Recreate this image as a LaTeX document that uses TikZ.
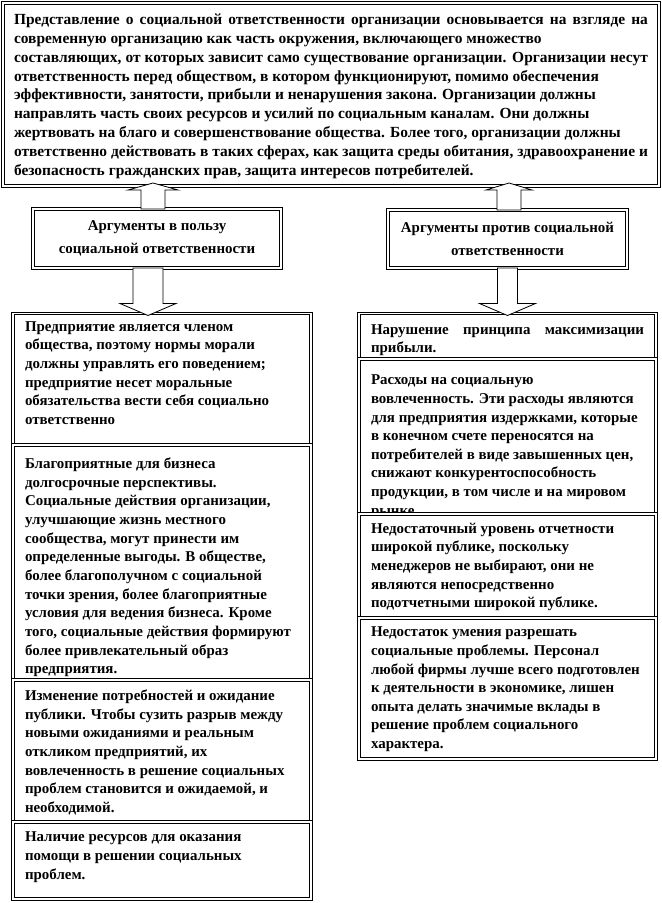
\documentclass[tikz,border=0pt]{standalone}
\usepackage{fontspec}
\setmainfont{Liberation Serif}
\usetikzlibrary{calc}

\newcommand{\boxpar}[3]{\parbox[t][#2][t]{#1}{\raggedright #3}}
\newcommand{\fullline}[1]{\makebox[\linewidth][s]{#1}}

\begin{document}
\begin{tikzpicture}[x=1bp,y=-1bp,
frame/.style={draw,double,double distance=1.4bp,line width=0.9bp,fill=white,outer sep=0pt,inner sep=0pt,
  font=\fontsize{15}{18.7}\selectfont\bfseries},
argBox/.style={frame,align=center,minimum width=248bp,minimum height=59bp},
cellBox/.style={frame,anchor=north west,inner xsep=12bp,inner ysep=8bp},
blockArrow/.style={draw,fill=white,line width=0.8bp}]
\useasboundingbox (0,0) rectangle (662,903);

\node[cellBox,inner xsep=11bp,inner ysep=11bp,font=\fontsize{15.5}{18.9}\selectfont\bfseries] (society) at (3,3) {\boxpar{634bp}{161bp}{%
\fullline{Представление о социальной ответственности организации основывается на взгляде на}\\
современную организацию как часть окружения, включающего  множество\\
\fullline{составляющих, от которых зависит само существование организации. Организации несут}\\
ответственность перед обществом, в котором функционируют, помимо обеспечения\\
эффективности, занятости, прибыли и ненарушения закона. Организации должны\\
направлять часть своих ресурсов и усилий по социальным каналам. Они должны\\
жертвовать на благо и совершенствование общества. Более того, организации должны\\
\fullline{ответственно действовать в таких сферах, как защита среды обитания, здравоохранение и}\\
безопасность гражданских прав, защита интересов потребителей.}};

\node[argBox] (pro) at (157,238.5) {Аргументы в пользу\\[4bp]социальной ответственности};
\node[argBox,minimum width=239bp,minimum height=58bp] (contra) at (507.5,239) {Аргументы против социальной\\[4bp]ответственности};

% arguments for
\node[cellBox] (proA) at (13,313.5) {\boxpar{274bp}{115.5bp}{%
Предприятие является членом\\
общества, поэтому нормы морали\\
должны управлять его поведением;\\
предприятие несет моральные\\
обязательства вести себя социально\\
ответственно}};
\node[cellBox,inner ysep=13bp] (proB) at (proA.south west) {\boxpar{274bp}{209bp}{%
Благоприятные для бизнеса\\
долгосрочные перспективы.\\
Социальные действия организации,\\
улучшающие  жизнь местного\\
сообщества, могут принести им\\
определенные выгоды. В обществе,\\
более благополучном с социальной\\
точки зрения, более благоприятные\\
условия для ведения бизнеса. Кроме\\
того, социальные действия формируют\\
более привлекательный образ\\
предприятия.}};
\node[cellBox,inner ysep=10bp] (proC) at (proB.south west) {\boxpar{274bp}{122bp}{%
Изменение потребностей и ожидание\\
публики. Чтобы сузить разрыв между\\
новыми ожиданиями и реальным\\
откликом предприятий, их\\
вовлеченность в решение социальных\\
проблем становится и ожидаемой, и\\
необходимой.}};
\node[cellBox,inner ysep=10bp] (proD) at (proC.south west) {\boxpar{274bp}{57bp}{%
Наличие ресурсов для оказания\\
помощи в решении социальных\\
проблем.}};

% arguments against
\node[cellBox,inner ysep=11bp] (conA) at (359,313.5) {\boxpar{273bp}{23.5bp}{%
\fullline{Нарушение принципа максимизации}\\
прибыли.}};
\node[cellBox,inner ysep=16bp] (conB) at (conA.south west) {\boxpar{273bp}{123bp}{%
Расходы на социальную\\
вовлеченность. Эти расходы являются\\
для предприятия издержками, которые\\
в конечном счете переносятся на\\
потребителей в виде завышенных цен,\\
снижают конкурентоспособность\\
продукции, в том числе и на мировом\\
рынке.}};
\node[cellBox,inner ysep=9bp] (conC) at (conB.south west) {\boxpar{273bp}{86bp}{%
Недостаточный уровень отчетности\\
широкой публике, поскольку\\
менеджеров не выбирают, они не\\
являются непосредственно\\
подотчетными широкой публике.}};
\node[cellBox,inner ysep=9bp] (conD) at (conC.south west) {\boxpar{273bp}{123bp}{%
Недостаток умения разрешать\\
социальные проблемы. Персонал\\
любой фирмы лучше  всего подготовлен\\
к деятельности в экономике, лишен\\
опыта делать значимые вклады в\\
решение проблем социального\\
характера.}};

% block arrows
\coordinate (upTipA) at ($(pro.north |- society.south)+(-4,-3)$);
\coordinate (upTipB) at ($(contra.north |- society.south)+(1.5,-3)$);
\coordinate (downTipA) at ($(pro.south |- proA.north)+(-9,2)$);
\coordinate (downTipB) at ($(contra.south |- conA.north)+(0,2)$);
\draw[blockArrow] ($(pro.north)+(-16,0)$) |- ($(upTipA)+(-25,7)$) -- (upTipA) -- ($(upTipA)+(25,7)$) -| ($(pro.north)+(8,0)$) -- cycle;
\draw[blockArrow] ($(contra.north)+(-10.5,0)$) |- ($(upTipB)+(-23,7)$) -- (upTipB) -- ($(upTipB)+(23,7)$) -| ($(contra.north)+(13.5,0)$) -- cycle;
\draw[blockArrow] ($(pro.south)+(-24,0)$) |- ($(downTipA)+(-28,-12)$) -- (downTipA) -- ($(downTipA)+(28,-12)$) -| ($(pro.south)+(6,0)$) -- cycle;
\draw[blockArrow] ($(contra.south)+(-10,0)$) |- ($(downTipB)+(-28,-12)$) -- (downTipB) -- ($(downTipB)+(28,-12)$) -| ($(contra.south)+(10,0)$) -- cycle;
\end{tikzpicture}
\end{document}
